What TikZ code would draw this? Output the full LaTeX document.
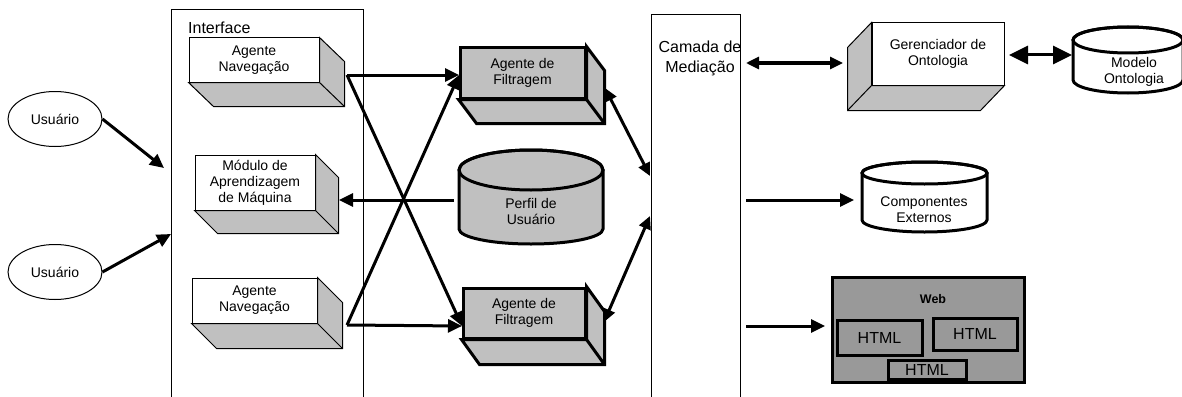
\documentclass[tikz,border=0pt]{standalone}
\usepackage{fontspec}
\setmainfont{Liberation Sans}
\usepackage{tikz}
\usetikzlibrary{arrows.meta,shapes.geometric}
\definecolor{boxgrey}{RGB}{192,192,192}
\definecolor{webgrey}{RGB}{153,153,153}
% side faces of a 3d box: style, node, three corners, depth
\newcommand{\boxsides}[6]{%
  \filldraw[#1] (#2.#3) -- ([shift={(#6)}]#2.#3) -- ([shift={(#6)}]#2.#4) -- ([shift={(#6)}]#2.#5) -- (#2.#5) -- (#2.#4) -- cycle;
  \draw[#1] (#2.#4) -- ([shift={(#6)}]#2.#4);}

\begin{document}
\begin{tikzpicture}[x=1pt,y=-1pt,
    txt/.style={align=center, inner sep=0, font=\fontsize{14}{16}\selectfont},
    front/.style={txt, draw, line width=1, fill=white},
    side/.style={line width=1, fill=boxgrey},
    filt/.style={txt, draw, line width=3, fill=boxgrey},
    panel/.style={draw, line width=1, anchor=north west},
    user/.style={txt, draw, ellipse, line width=1, minimum width=94, minimum height=55},
    htmlbox/.style={draw, line width=3, fill=webgrey, inner sep=0, font=\fontsize{16}{18}\selectfont},
    conn/.style={line width=3, -{Triangle[length=14pt,width=13pt]}},
    both/.style={line width=3, {Triangle[length=13pt,width=12pt]}-{Triangle[length=13pt,width=12pt]}}]
  \useasboundingbox (0,0) rectangle (1182,396);

  % panels
  \node[panel, minimum width=192, minimum height=400] (iface) at (171,9) {};
  \node[anchor=west, inner sep=0, font=\fontsize{16}{18}\selectfont] (ifacetxt) at (188,28) {Interface};
  \node[panel, minimum width=89, minimum height=400] (med) at (651,14) {};
  \node[align=center, inner sep=0, font=\fontsize{16}{20}\selectfont] (medtxt) at (700,58) {Camada de\\Mediação};

  % users
  \node[user] (u1) at (55,119) {Usuário};
  \node[user] (u2) at (55,272) {Usuário};

  % interface boxes
  \node[front, minimum width=130, minimum height=44] (nav1) at (254,60) {Agente\\Navegação};
  \boxsides{side}{nav1}{north east}{south east}{south west}{25,24}
  \node[front, minimum width=120, minimum height=55] (mod) at (255,182.5) {Módulo de\\Aprendizagem\\de Máquina};
  \boxsides{side}{mod}{north east}{south east}{south west}{23,23}
  \node[front, minimum width=125, minimum height=45] (nav2) at (254.5,300.5) {Agente\\Navegação};
  \boxsides{side}{nav2}{north east}{south east}{south west}{25,25}

  % filter agents
  \node[filt, minimum width=125, minimum height=50] (filt1) at (522.5,73) {Agente de\\Filtragem};
  \boxsides{line width=3, fill=boxgrey}{filt1}{north east}{south east}{south west}{18,24}
  \node[filt, minimum width=122, minimum height=50] (filt2) at (524,313) {Agente de\\Filtragem};
  \boxsides{line width=3, fill=boxgrey}{filt2}{north east}{south east}{south west}{18,25}

  % profile store
  \filldraw[line width=3, fill=boxgrey] (459,170) -- (459,229) arc[start angle=180, end angle=0, x radius=72, y radius=15]
    -- (603,170) arc[start angle=0, end angle=-180, x radius=72, y radius=20] -- cycle;
  \draw[line width=3] (531,170) ellipse[x radius=72, y radius=20];
  \node[txt] (perfil) at (531,211) {Perfil de\\Usuário};

  % ontology manager
  \node[front, minimum width=132, minimum height=62] (ger) at (938,54) {Gerenciador de\\Ontologia};
  \boxsides{side}{ger}{north west}{south west}{south east}{-24,25}

  % ontology model
  \filldraw[line width=3, fill=white] (1073,40) -- (1073,80) arc[start angle=180, end angle=0, x radius=55, y radius=13]
    -- (1183,40) arc[start angle=0, end angle=-180, x radius=55, y radius=13] -- cycle;
  \draw[line width=3] (1128,40) ellipse[x radius=55, y radius=13];
  \node[txt] (modelo) at (1134,72) {Modelo\\Ontologia};

  % external components
  \filldraw[line width=3, fill=white] (862,173) -- (862,220) arc[start angle=180, end angle=0, x radius=62.5, y radius=12]
    -- (987,173) arc[start angle=0, end angle=-180, x radius=62.5, y radius=11] -- cycle;
  \draw[line width=3] (924.5,173) ellipse[x radius=62.5, y radius=11];
  \node[txt] (comp) at (924,210) {Componentes\\Externos};

  % web
  \node[draw, line width=3, fill=webgrey, minimum width=192, minimum height=105] (web) at (928,329.5) {};
  \node[inner sep=0, font=\fontsize{12.5}{14}\selectfont\bfseries] (webtxt) at (933,299) {Web};
  \node[htmlbox, minimum width=85, minimum height=35] (html1) at (879.5,337.5) {HTML};
  \node[htmlbox, minimum width=84, minimum height=32] (html2) at (975,334) {HTML};
  \node[htmlbox, minimum width=78, minimum height=19] (html3) at (927,369.5) {HTML};

  % ports
  \coordinate (in1) at (164,168);
  \coordinate (in2) at (171,234);
  \coordinate (nav1out) at (347,75);
  \coordinate (nav2out) at (347,325);
  \coordinate (filt1in) at (459,75);
  \coordinate (filt2in) at (462,326);
  \coordinate (perfilout) at (454,200);
  \coordinate (modin) at (339,200);
  \coordinate (filt1out) at (605,88);
  \coordinate (filt2out) at (604,322);
  \coordinate (medin1) at (650,176);
  \coordinate (medin2) at (650,216);
  \coordinate (med1) at (746,63);
  \coordinate (med2) at (746,200);
  \coordinate (med3) at (746,326);
  \coordinate (gerin) at (843,63);
  \coordinate (gerout) at (1009,55);
  \coordinate (modeloin) at (1072,55);
  \coordinate (compin) at (854,200);
  \coordinate (webin) at (825,326);

  % connectors
  \draw[conn] (u1.east) -- (in1);
  \draw[conn] (u2.east) -- (in2);
  \draw[conn] (nav1out) -- (filt1in);
  \draw[conn] (nav1out) -- (filt2in);
  \draw[conn] (nav2out) -- (filt2in);
  \draw[conn] (nav2out) -- (filt1in);
  \draw[conn] (perfilout) -- (modin);
  \draw[both] (filt1out) -- (medin1);
  \draw[both] (filt2out) -- (medin2);
  \draw[both] (med1) -- (gerin);
  \draw[line width=3, {Triangle[length=19pt,width=18pt]}-{Triangle[length=19pt,width=18pt]}] (gerout) -- (modeloin);
  \draw[conn] (med2) -- (compin);
  \draw[conn] (med3) -- (webin);
\end{tikzpicture}
\end{document}
